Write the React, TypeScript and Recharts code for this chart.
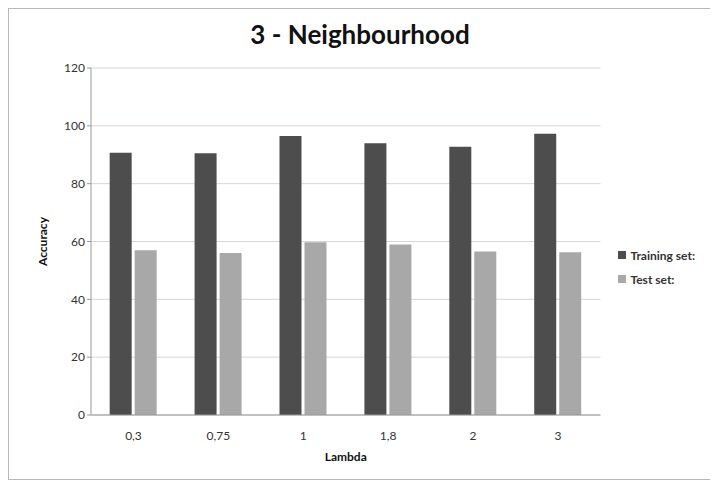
import { BarChart, Bar, XAxis, YAxis, CartesianGrid, Legend } from 'recharts';

const lambdas = ['0,3', '0,75', '1', '1,8', '2', '3'];
const trainingSet = [90.7, 90.5, 96.5, 94, 92.8, 97.3];
const testSet = [57, 56, 59.7, 59, 56.5, 56.3];
const yTicks = [0, 20, 40, 60, 80, 100, 120];

const series = [
  { key: 'training', name: 'Training set:', color: '#4d4d4d' },
  { key: 'test', name: 'Test set:', color: '#a8a8a8' },
];

const data = lambdas.map((name, i) => ({
  name,
  training: trainingSet[i],
  test: testSet[i],
}));

const FONT = 'Lato, "Open Sans", sans-serif';

function LegendBox() {
  return (
    <div style={{ paddingLeft: 18, marginTop: 46 }}>
      {series.map(s => (
        <div key={s.key} style={{ display: 'flex', alignItems: 'center', height: 24, fontSize: 12, fontWeight: 700, color: '#333' }}>
          <span style={{ width: 8, height: 8, background: s.color, marginRight: 4, display: 'inline-block' }} />
          {s.name}
        </div>
      ))}
    </div>
  );
}

export default function App() {
  return (
    <div
      style={{
        position: 'relative',
        width: 702,
        height: 470,
        border: '1px solid #b8b8b8',
        background: '#fff',
        fontFamily: FONT,
      }}
    >
      <div
        style={{
          position: 'absolute',
          top: 9,
          left: 0,
          width: '100%',
          textAlign: 'center',
          fontSize: 26,
          fontWeight: 700,
          color: '#111',
        }}
      >
        3 - Neighbourhood
      </div>
      <BarChart
        width={702}
        height={470}
        data={data}
        margin={{ top: 59, right: 16, left: 28, bottom: 6 }}
        barCategoryGap="22%"
        barGap={3}
      >
        <CartesianGrid vertical={false} stroke="#dcd4d0" />
        <XAxis
          dataKey="name"
          tick={{ fontSize: 12, fill: '#333', fontFamily: FONT }}
          tickLine={false}
          tickMargin={10}
          axisLine={{ stroke: '#999' }}
          height={58}
          label={{ value: 'Lambda', position: 'insideBottom', offset: 12, fontSize: 12, fontWeight: 700, fill: '#111', fontFamily: FONT }}
        />
        <YAxis
          domain={[0, 120]}
          ticks={yTicks}
          tick={{ fontSize: 12, fill: '#333', fontFamily: FONT }}
          tickLine={{ stroke: '#999' }}
          tickSize={4}
          axisLine={{ stroke: '#999' }}
          width={54}
          label={{ value: 'Accuracy', angle: -90, position: 'insideLeft', offset: 6, fontSize: 12, fontWeight: 700, fill: '#111', fontFamily: FONT, style: { textAnchor: 'middle' } }}
        />
        <Legend layout="vertical" align="right" verticalAlign="middle" content={<LegendBox />} />
        {series.map(s => (
          <Bar key={s.key} dataKey={s.key} name={s.name} fill={s.color} isAnimationActive={false} />
        ))}
      </BarChart>
    </div>
  );
}
